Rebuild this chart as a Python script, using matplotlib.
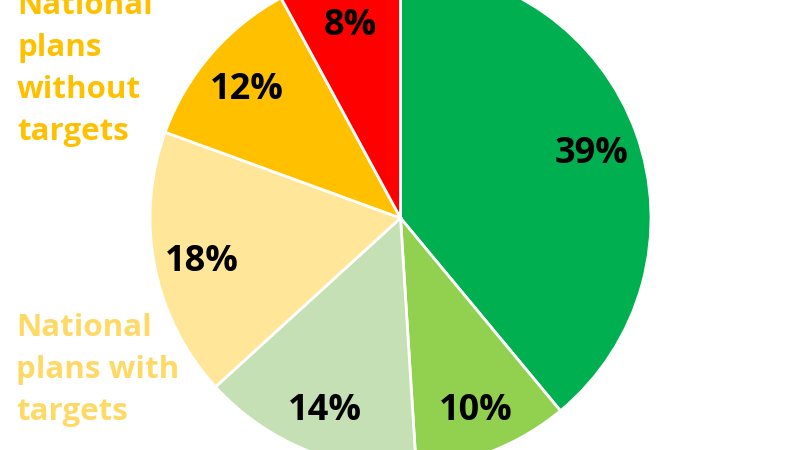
import numpy as np
import matplotlib
matplotlib.use("Agg")
import matplotlib.pyplot as plt

plt.rcParams['font.family'] = ['Open Sans', 'DejaVu Sans']

# Data (clockwise from 12 o'clock)
shares = [38.9, 10.0, 14.2, 17.3, 11.5, 7.9]
pct_labels = ["39%", "10%", "14%", "18%", "12%", "8%"]
colors = ["#00B050", "#92D050", "#C5E0B4", "#FFE699", "#FFC000", "#FF0000"]
side_labels = ["National\nplans\nwithout\ntargets", "National\nplans with\ntargets"]
side_colors = ["#FFC000", "#FFD966"]

fig = plt.figure(figsize=(8, 4.5), dpi=100)
ax = fig.add_axes([0, 0, 1, 1])

cx, cy, R = 400.5, 450 - 218, 250.5
wedges, _ = ax.pie(shares, colors=colors, startangle=90, counterclock=False,
                   center=(cx, cy), radius=R, normalize=True,
                   wedgeprops=dict(edgecolor='white', linewidth=2))
ax.set_xlim(0, 800)
ax.set_ylim(0, 450)
ax.set_aspect('equal')
ax.axis('off')

for w, lab in zip(wedges, pct_labels):
    mid = np.deg2rad((w.theta1 + w.theta2) / 2)
    x = cx + 0.81 * R * np.cos(mid)
    y = cy + 0.81 * R * np.sin(mid)
    ax.text(x, y, lab, ha='center', va='center_baseline', fontsize=26,
            fontweight='bold', color='black')

ax.text(17, 450 - 140, side_labels[0], ha='left', va='baseline', fontsize=22.5,
        fontweight='bold', color=side_colors[0], linespacing=1.52)
ax.text(16, 450 - 420, side_labels[1], ha='left', va='baseline', fontsize=22.5,
        fontweight='bold', color=side_colors[1], linespacing=1.52)

fig.savefig("out.png", dpi=100)
